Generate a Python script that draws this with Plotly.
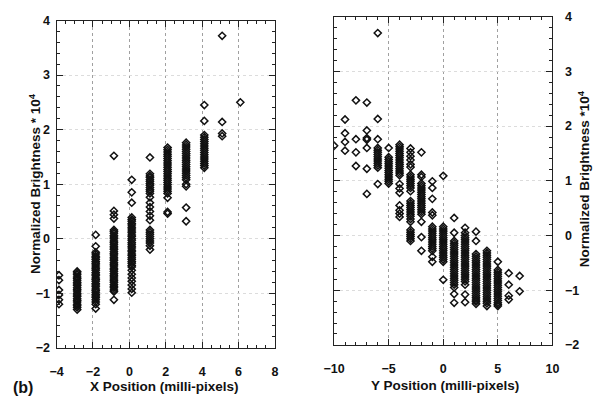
import plotly.graph_objects as go

# ---- Left panel: X position columns ----
left_x_pos = [-3.87, -2.87, -1.85, -0.85, 0.13, 1.13, 2.1, 3.12, 4.12, 5.1, 6.1]
left_y_cols = [
    [-0.67, -0.76, -0.94, -1.03, -1.12, -1.2],
    [-0.6, -0.63, -0.66, -0.7, -0.73, -0.76, -0.8, -0.83, -0.86, -0.9, -0.93, -0.96, -1.0,
     -1.03, -1.06, -1.1, -1.13, -1.16, -1.2, -1.23, -1.26, -1.3],
    [0.07, -0.14, -0.25, -0.28, -0.32, -0.35, -0.38, -0.42, -0.45, -0.48, -0.52, -0.55, -0.58,
     -0.62, -0.65, -0.68, -0.72, -0.75, -0.78, -0.82, -0.85, -0.88, -0.92, -0.95, -0.98, -1.02,
     -1.05, -1.08, -1.12, -1.16, -1.2, -1.28],
    [1.52, 0.51, 0.44, 0.37, 0.16, 0.13, 0.1, 0.06, 0.03, 0.0, -0.04, -0.07, -0.1, -0.14, -0.17,
     -0.2, -0.24, -0.27, -0.3, -0.34, -0.37, -0.4, -0.44, -0.47, -0.5, -0.54, -0.57, -0.6, -0.64,
     -0.67, -0.7, -0.74, -0.77, -0.8, -0.84, -0.87, -0.9, -0.94, -0.97, -1.12],
    [1.08, 0.85, 0.66, 0.39, 0.35, 0.32, 0.28, 0.25, 0.21, 0.18, 0.14, 0.11, 0.07, 0.04, 0.0,
     -0.03, -0.07, -0.1, -0.14, -0.17, -0.21, -0.24, -0.28, -0.31, -0.35, -0.38, -0.42, -0.45,
     -0.49, -0.52, -0.58, -0.65, -0.72, -0.78, -0.85, -0.92, -0.99],
    [1.49, 1.19, 1.15, 1.12, 1.08, 1.05, 1.01, 0.98, 0.94, 0.9, 0.87, 0.83, 0.76, 0.66, 0.58,
     0.5, 0.42, 0.34, 0.16, 0.12, 0.08, 0.04, 0.0, -0.04, -0.08, -0.13, -0.2],
    [1.67, 1.63, 1.59, 1.55, 1.51, 1.47, 1.43, 1.39, 1.35, 1.31, 1.27, 1.23, 1.19, 1.15, 1.11,
     1.07, 1.03, 0.99, 0.95, 0.91, 0.87, 0.83, 0.75, 0.49, 0.46],
    [1.76, 1.72, 1.68, 1.64, 1.6, 1.56, 1.52, 1.48, 1.44, 1.4, 1.36, 1.32, 1.28, 1.24, 1.2,
     1.16, 1.12, 1.08, 1.0, 0.96, 0.57, 0.32],
    [2.45, 2.16, 1.9, 1.86, 1.82, 1.78, 1.74, 1.7, 1.66, 1.62, 1.58, 1.54, 1.5, 1.46, 1.42,
     1.38, 1.34, 1.3],
    [3.72, 2.14, 1.93, 1.88],
    [2.5],
]

# ---- Right panel: Y position columns ----
right_x_pos = [-10, -9, -8, -7, -6, -5, -4, -3, -2, -1, 0, 1, 2, 3, 4, 5, 6, 7]
right_y_cols = [
    [1.64],
    [2.12, 1.87, 1.71, 1.55],
    [2.47, 1.76, 1.52, 1.27],
    [2.43, 1.92, 1.78, 1.75, 1.6, 1.22, 0.76],
    [3.7, 2.13, 1.76, 1.6, 1.56, 1.52, 1.48, 1.44, 1.4, 1.36, 1.32, 1.28, 1.24, 0.94],
    [1.6, 1.43, 1.39, 1.35, 1.31, 1.27, 1.23, 1.19, 1.15, 1.11, 1.07, 1.03, 0.99, 0.95],
    [1.66, 1.62, 1.58, 1.54, 1.5, 1.46, 1.42, 1.38, 1.34, 1.3, 1.26, 1.22, 1.18, 1.14, 1.1,
     0.94, 0.86, 0.78, 0.55, 0.46, 0.4, 0.34],
    [1.59, 1.52, 1.45, 1.38, 1.3, 1.25, 1.11, 1.07, 1.03, 0.99, 0.95, 0.91, 0.87, 0.81, 0.63,
     0.59, 0.55, 0.51, 0.47, 0.43, 0.39, 0.35, 0.3, 0.25, 0.1, 0.06, 0.02, -0.02, -0.06, -0.1],
    [1.52, 1.11, 1.07, 0.95, 0.91, 0.87, 0.83, 0.79, 0.75, 0.71, 0.67, 0.63, 0.59, 0.55, 0.51,
     0.47, 0.43, 0.39, 0.25, -0.03, -0.28],
    [0.99, 0.87, 0.67, 0.42, 0.37, 0.16, 0.12, 0.08, 0.04, 0.0, -0.04, -0.08, -0.12, -0.16,
     -0.2, -0.24, -0.28, -0.39, -0.48],
    [1.09, 0.16, 0.12, 0.08, 0.04, 0.0, -0.04, -0.08, -0.12, -0.16, -0.2, -0.24, -0.28, -0.32,
     -0.36, -0.4, -0.44, -0.48, -0.81],
    [0.32, 0.05, -0.1, -0.14, -0.18, -0.22, -0.26, -0.3, -0.34, -0.38, -0.42, -0.46, -0.5,
     -0.54, -0.58, -0.62, -0.66, -0.7, -0.74, -0.78, -0.82, -0.86, -0.9, -0.95, -1.07, -1.23],
    [0.14, 0.05, 0.0, -0.04, -0.08, -0.12, -0.16, -0.2, -0.24, -0.28, -0.32, -0.36, -0.4,
     -0.44, -0.48, -0.52, -0.56, -0.6, -0.64, -0.68, -0.72, -0.76, -0.8, -0.84, -0.9, -1.08, -1.22],
    [0.07, -0.1, -0.34, -0.38, -0.42, -0.46, -0.5, -0.54, -0.58, -0.62, -0.66, -0.7, -0.74,
     -0.78, -0.82, -0.86, -0.9, -0.94, -0.98, -1.02, -1.06, -1.1, -1.14, -1.18, -1.21, -1.25],
    [-0.28, -0.32, -0.36, -0.4, -0.44, -0.48, -0.52, -0.56, -0.6, -0.64, -0.68, -0.72, -0.76,
     -0.8, -0.84, -0.88, -0.92, -0.96, -1.0, -1.04, -1.08, -1.12, -1.16, -1.2, -1.24, -1.29],
    [-0.48, -0.63, -0.67, -0.71, -0.75, -0.79, -0.83, -0.87, -0.91, -0.95, -0.99, -1.03,
     -1.07, -1.11, -1.15, -1.19, -1.23, -1.26, -1.29],
    [-0.69, -0.9, -1.1, -1.17],
    [-0.74, -1.02],
]

left_xticks = [-4, -2, 0, 2, 4, 6, 8]
right_xticks = [-10, -5, 0, 5, 10]
yticks = [-2, -1, 0, 1, 2, 3, 4]

left_title_x = "X Position (milli-pixels)"
right_title_x = "Y Position (milli-pixels)"
left_title_y = "Normalized Brightness * 10<sup>4</sup>"
right_title_y = "Normalized Brightness *10<sup>4</sup>"
panel_label = "(b)"


def flatten(xs, cols):
    px, py = [], []
    for xv, col in zip(xs, cols):
        for yv in col:
            px.append(xv)
            py.append(yv)
    return px, py


lx, ly = flatten(left_x_pos, left_y_cols)
rx, ry = flatten(right_x_pos, right_y_cols)

W, H = 605, 405
INK = "#111111"
marker = dict(symbol="diamond-open", size=5.5, color=INK, line=dict(width=1.5, color=INK))

fig = go.Figure()
fig.add_trace(go.Scatter(x=lx, y=ly, mode="markers", marker=marker, xaxis="x", yaxis="y",
                         showlegend=False))
fig.add_trace(go.Scatter(x=rx, y=ry, mode="markers", marker=marker, xaxis="x2", yaxis="y2",
                         showlegend=False))

FAM = "Liberation Sans, Arial, sans-serif"
tick_font = dict(family=FAM, size=12.5, color=INK, weight="bold")

axis_common = dict(
    showline=True, linecolor="#222222", linewidth=1.2, mirror="ticks",
    ticks="inside", ticklen=6, tickwidth=1, tickcolor="#222222",
    showgrid=True, gridcolor="#a0a0a0", griddash="dot", gridwidth=1,
    zeroline=False, tickfont=tick_font,
)
minor_common = dict(ticks="inside", ticklen=3, tickcolor="#222222", showgrid=False)

fig.update_layout(
    width=W, height=H,
    margin=dict(l=0, r=0, t=0, b=0),
    paper_bgcolor="white", plot_bgcolor="white",
    font=dict(family=FAM, size=12.5, color=INK),
    xaxis=dict(axis_common, domain=[47 / W, 272 / W], range=[-4, 8], tickvals=left_xticks,
               anchor="y", ticklabelstandoff=12, minor=dict(minor_common, dtick=0.5)),
    yaxis=dict(axis_common, domain=[1 - 353 / H, 1 - 14 / H], range=[-2, 4], tickvals=yticks,
               anchor="x", ticklabelstandoff=3, gridcolor="#dcdcdc",
               minor=dict(minor_common, dtick=0.2)),
    xaxis2=dict(axis_common, domain=[333 / W, 558 / W], range=[-10, 10], tickvals=right_xticks,
                anchor="y2", ticklabelstandoff=12, minor=dict(minor_common, dtick=1)),
    yaxis2=dict(axis_common, domain=[1 - 350 / H, 1 - 10 / H], range=[-2, 4], tickvals=yticks,
                anchor="x2", side="right", ticklabelstandoff=9, gridcolor="#dcdcdc",
                minor=dict(minor_common, dtick=0.2)),
)

title_font = dict(family=FAM, size=13.5, color=INK, weight="bold")
annotations = [
    dict(text=left_title_x, x=158 / W, y=1 - 393 / H, xref="paper", yref="paper",
         showarrow=False, font=title_font, xanchor="center", yanchor="middle"),
    dict(text=right_title_x, x=447 / W, y=1 - 392 / H, xref="paper", yref="paper",
         showarrow=False, font=title_font, xanchor="center", yanchor="middle"),
    dict(text=left_title_y, x=24 / W, y=1 - 183 / H, xref="paper", yref="paper",
         showarrow=False, font=title_font, textangle=-90, xanchor="center", yanchor="middle"),
    dict(text=right_title_y, x=590 / W, y=1 - 178 / H, xref="paper", yref="paper",
         showarrow=False, font=title_font, textangle=-90, xanchor="center", yanchor="middle"),
    dict(text=panel_label, x=0, y=0, xref="paper", yref="paper",
         showarrow=False, font=dict(family=FAM, size=16, color=INK, weight="bold"),
         xanchor="left", yanchor="bottom"),
]
fig.update_layout(annotations=annotations)

fig.write_html("out.html")
